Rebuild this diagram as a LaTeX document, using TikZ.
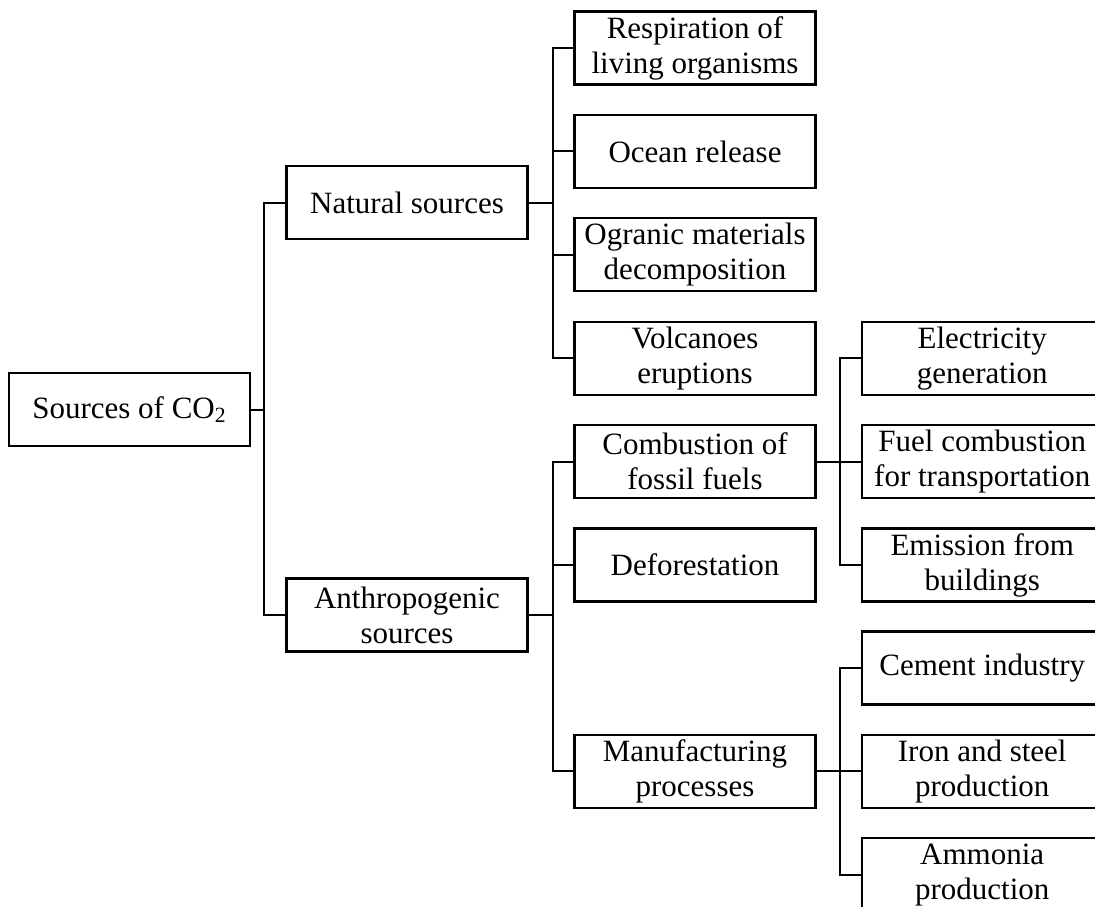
\documentclass[tikz,border=0pt]{standalone}
\usepackage{fontspec}
\setmainfont{Liberation Serif}
\usepackage{tikz}
\usetikzlibrary{shapes,arrows,positioning}
\tikzstyle{Box} = [draw, rectangle, line width=1.1pt, minimum height=36.5pt, minimum width=120.5pt, inner sep=2pt, align=center, font=\fontsize{15.5}{17.5}\selectfont]
\tikzstyle{Link} = [line width=1pt]

\begin{document}
\begin{tikzpicture}[x=0.5pt,y=-0.5pt,node distance=14.1pt]
    \useasboundingbox (0,0) rectangle (1095,906);
    \clip (0,0) rectangle (1095,906);
    \node[Box] (sources)       at (129.5,409.5)                {Sources of CO\textsubscript{2}};
    \node[Box] (natural)       at (407,202.5)                  {Natural sources};
    \node[Box] (anthro)        at (407,615)                    {Anthropogenic\\sources};
    \node[Box] (respiration)   at (695,48)                     {Respiration of\\living organisms};
    \node[Box] (ocean)         [below=of respiration]          {Ocean release};
    \node[Box] (organic)       [below=of ocean]                {Ogranic materials\\decomposition};
    \node[Box] (volcanoes)     [below=of organic]              {Volcanoes\\eruptions};
    \node[Box] (combustion)    [below=of volcanoes]            {Combustion of\\fossil fuels};
    \node[Box] (deforestation) [below=of combustion]           {Deforestation};
    \node[Box] (manufacturing) [below=65.6pt of deforestation] {Manufacturing\\processes};
    \node[Box] (electricity)   [right=22pt of volcanoes]       {Electricity\\generation};
    \node[Box] (fuel)          [right=22pt of combustion]      {Fuel combustion\\for transportation};
    \node[Box] (emission)      [right=22pt of deforestation]   {Emission from\\buildings};
    \node[Box] (iron)          [right=22pt of manufacturing]   {Iron and steel\\production};
    \node[Box] (cement)        [above=of iron]                 {Cement industry};
    \node[Box] (ammonia)       [below=of iron]                 {Ammonia\\production};
    \foreach \c in {natural,anthro}
      \draw[Link] (sources.east) -- ++(13,0) |- (\c.west);
    \foreach \c in {respiration,ocean,organic,volcanoes}
      \draw[Link] (natural.east) -- ++(24,0) |- (\c.west);
    \foreach \c in {combustion,deforestation,manufacturing}
      \draw[Link] (anthro.east) -- ++(24,0) |- (\c.west);
    \foreach \c in {electricity,fuel,emission}
      \draw[Link] (combustion.east) -- ++(23,0) |- (\c.west);
    \foreach \c in {cement,iron,ammonia}
      \draw[Link] (manufacturing.east) -- ++(23,0) |- (\c.west);
  \end{tikzpicture}
\end{document}
